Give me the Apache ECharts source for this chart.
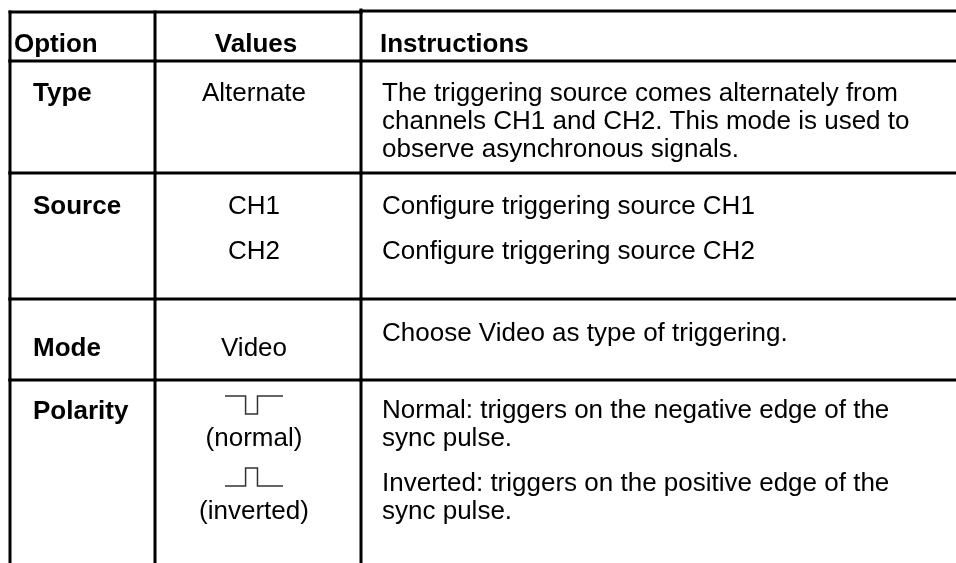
<!DOCTYPE html>
<html><head><meta charset="utf-8">
<script src="https://cdn.jsdelivr.net/npm/echarts@6/dist/echarts.min.js"></script>
<style>html,body{margin:0;padding:0;background:#fff}#c{width:956px;height:563px}</style>
</head><body><div id="c"></div>
<script>
// ---- table content ----
const headers = ['Option', 'Values', 'Instructions'];
const options = ['Type', 'Source', 'Mode', 'Polarity'];
const values = [['Alternate'], ['CH1', 'CH2'], ['Video'], ['(normal)', '(inverted)']];
const pulses = [[], [], [], [[1, 0, 1], [0, 1, 0]]]; // pulse glyph levels (1 = high, 0 = low)
const instructions = [
  ['The triggering source comes alternately from', 'channels CH1 and CH2. This mode is used to', 'observe asynchronous signals.'],
  ['Configure triggering source CH1', 'Configure triggering source CH2'],
  ['Choose Video as type of triggering.'],
  ['Normal: triggers on the negative edge of the', 'sync pulse.', 'Inverted: triggers on the positive edge of the', 'sync pulse.']
];

// ---- layout (positions in axis units) ----
const COL = [10, 155, 361, 956];
const ROW = [12, 61, 173, 299, 380, 563];
const TOP_RIGHT = 11;
const HEAD_Y = 45;
const HEAD_X = [14, 256, 380];
const OPT_X = 33, VAL_CX = 254, INS_X = 382;
const LAYOUT = [
  {opt: 94, val: [94], ins: [94, 122, 150]},
  {opt: 207, val: [207, 252], ins: [207, 252]},
  {opt: 349, val: [349], ins: [334]},
  {opt: 412, val: [439, 512], sym: [405, 477], ins: [411, 439, 484, 512]}
];
const FS = 26, FF = '"Liberation Sans", Arial, Helvetica, sans-serif';
const SYM_W = 58, SYM_H = 18;

const chart = echarts.init(document.getElementById('c'), null, {renderer: 'canvas'});

function txt(api, x, y, s, bold, align) {
  const p = api.coord([x, y]);
  return {type: 'text', style: {text: s, x: p[0], y: p[1], fill: '#000', fontSize: FS, fontFamily: FF,
    fontWeight: bold ? 'bold' : 'normal', align: align || 'left', verticalAlign: 'middle'}};
}
function ln(api, x1, y1, x2, y2, w, c) {
  const a = api.coord([x1, y1]), b = api.coord([x2, y2]);
  return {type: 'line', shape: {x1: a[0], y1: a[1], x2: b[0], y2: b[1]},
    style: {stroke: c || '#000', lineWidth: w || 3, lineCap: 'square'}};
}

function renderItem(params, api) {
  const i = api.value(0);
  const ch = [];
  const y0 = ROW[i], y1 = ROW[i + 1];
  // borders
  if (i === 0) {
    ch.push(ln(api, COL[0], y0, COL[2], y0));
    ch.push(ln(api, COL[2], TOP_RIGHT, COL[3] + 2, TOP_RIGHT));
    ch.push(ln(api, COL[2], TOP_RIGHT - 1, COL[2], y0));
  } else {
    ch.push(ln(api, COL[0], y0, COL[3] + 2, y0));
  }
  for (let k = 0; k < 3; k++) ch.push(ln(api, COL[k], y0, COL[k], y1 + (i === 4 ? 2 : 0)));
  if (i === 0) {
    ch.push(txt(api, HEAD_X[0], HEAD_Y, headers[0], true));
    ch.push(txt(api, HEAD_X[1], HEAD_Y, headers[1], true, 'center'));
    ch.push(txt(api, HEAD_X[2], HEAD_Y, headers[2], true));
  } else {
    const r = i - 1, L = LAYOUT[r];
    ch.push(txt(api, OPT_X, L.opt, options[r], true));
    values[r].forEach((v, j) => ch.push(txt(api, VAL_CX, L.val[j], v, false, 'center')));
    pulses[r].forEach((lv, j) => {
      const cy = L.sym[j];
      const xs = [VAL_CX - SYM_W / 2, VAL_CX - SYM_W * 0.145, VAL_CX + SYM_W * 0.06, VAL_CX + SYM_W / 2];
      const yOf = h => h ? cy - SYM_H / 2 : cy + SYM_H / 2;
      const pts = [[xs[0], yOf(lv[0])], [xs[1], yOf(lv[0])], [xs[1], yOf(lv[1])], [xs[2], yOf(lv[1])],
        [xs[2], yOf(lv[2])], [xs[3], yOf(lv[2])]].map(p => api.coord(p));
      ch.push({type: 'polyline', shape: {points: pts}, style: {stroke: '#333', lineWidth: 1.5, fill: null}});
    });
    instructions[r].forEach((s, j) => ch.push(txt(api, INS_X, L.ins[j], s, false)));
  }
  return {type: 'group', children: ch};
}

chart.setOption({
  animation: false,
  backgroundColor: '#fff',
  grid: {left: 0, right: 0, top: 0, bottom: 0},
  xAxis: {type: 'value', min: 0, max: 956, show: false},
  yAxis: {type: 'value', min: 0, max: 563, inverse: true, show: false},
  series: [{
    type: 'custom',
    renderItem: renderItem,
    clip: false,
    data: [[0], [1], [2], [3], [4]]
  }]
});
</script>
</body></html>
